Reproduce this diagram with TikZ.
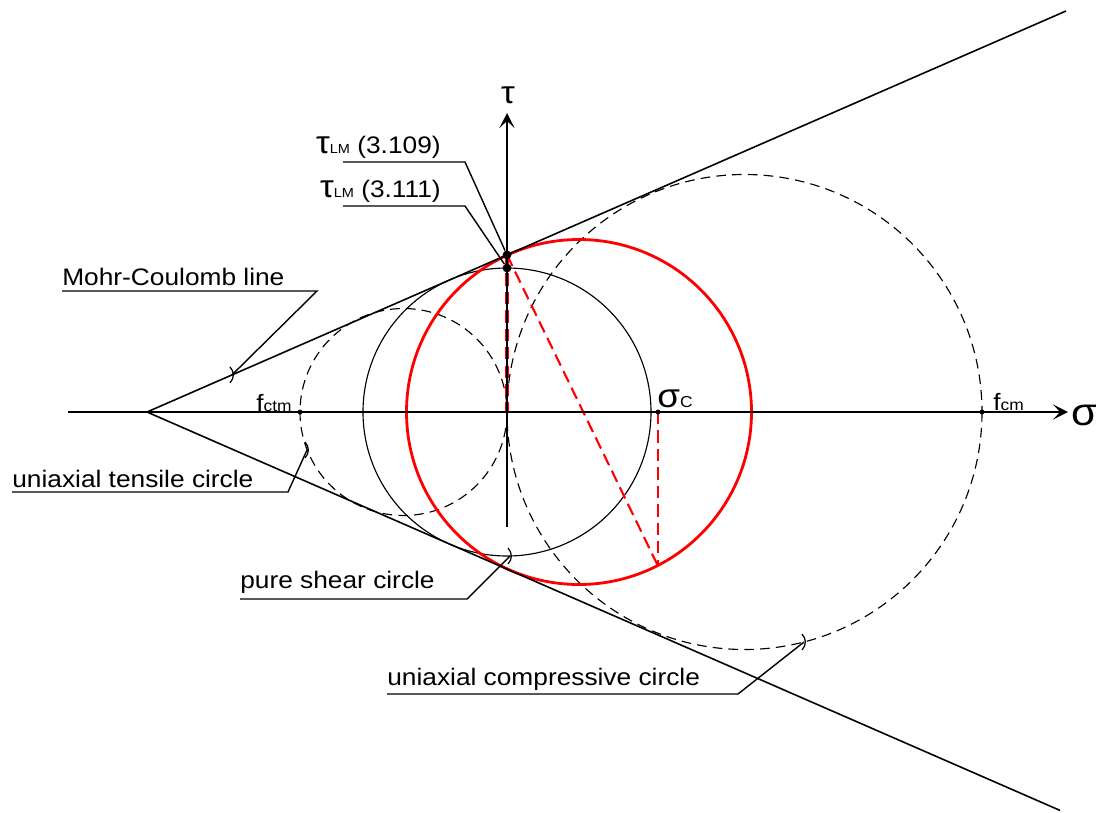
\documentclass[tikz,border=0pt]{standalone}
\usepackage{fontspec}
\setmainfont{Liberation Sans}[FakeStretch=1.1]
\usetikzlibrary{arrows.meta}
\begin{document}
\begin{tikzpicture}[x=0.02cm,y=-0.02cm,
  lbl/.style={inner sep=0pt, anchor=base west, font=\fontsize{13.6}{16}\selectfont},
  leader/.style={line width=0.8pt, line join=miter},
  axis/.style={line width=0.9pt, -{Stealth[length=8.5pt,width=8.5pt,inset=4pt]}},
  mcline/.style={line width=0.9pt},
  dcircle/.style={line width=0.65pt, dash pattern=on 5.5pt off 3.5pt},
  scircle/.style={line width=0.65pt},
  rcircle/.style={red, line width=1.6pt},
  rdash/.style={red, line width=1.2pt, dash pattern=on 7pt off 3.5pt},
  bigdot/.style={circle, fill, inner sep=0pt, minimum size=5pt},
  smalldot/.style={circle, fill, inner sep=0pt, minimum size=2.8pt},
  tickmark/.pic={\draw[line width=0.7pt] (-2,-8) .. controls (2.5,-3) and (2.5,3) .. (-2,8);}
]
\useasboundingbox (0,0) rectangle (1096,812);
% key coordinates
\coordinate (O) at (507,412);
\coordinate (A) at (147,412);
\coordinate (U) at (1066,11);
\coordinate (L) at (1060,810.4);
\coordinate (xs) at (68,412);
\coordinate (xe) at (1068,412);
\coordinate (ys) at (507,527);
\coordinate (ye) at (507,113);
\coordinate (P109) at (507,254.9);
\coordinate (P111) at (507,268);
\coordinate (Psc) at (658,412);
\coordinate (Pbot) at (658,566);
\coordinate (Pfctm) at (300,412);
\coordinate (Pfcm) at (982,412);
% circles
\draw[dcircle] (403.5,412) circle[radius=103.5];
\draw[scircle] (O) circle[radius=144];
\draw[dcircle] (744.5,412) circle[radius=237.5];
\draw[rcircle] (579,412) circle[radius=172.5];
% Mohr-Coulomb lines
\draw[mcline] (U) -- (A) -- (L);
% red construction lines
\draw[rdash, line width=1.8pt] (P109) -- (O);
\draw[rdash] (P109) -- (Pbot);
\draw[rdash] (Psc) -- (Pbot);
% axes
\draw[axis] (xs) -- (xe);
\draw[axis] (ys) -- (ye);
\node[inner sep=0pt, anchor=base, font=\fontsize{18}{18}\selectfont] (tauax) at (508,103) {τ};
\node[inner sep=0pt, anchor=base west, font=\fontsize{22}{22}\selectfont] (sigax) at (1071,425) {σ};
% dots
\node[bigdot] (d109) at (P109) {};
\node[bigdot] (d111) at (P111) {};
\node[smalldot] (dsc) at (Psc) {};
\node[smalldot] (dfctm) at (Pfctm) {};
\node[smalldot] (dfcm) at (Pfcm) {};
% point labels
\node[inner sep=0pt, anchor=base west] (lfctm) at (256,411) {{\fontsize{13.5}{13.5}\selectfont f}{\fontsize{9}{9}\selectfont ctm}};
\node[inner sep=0pt, anchor=base west] (lfcm) at (993,410) {{\fontsize{13.5}{13.5}\selectfont f}{\fontsize{9}{9}\selectfont cm}};
\node[inner sep=0pt, anchor=base west] (lsc) at (657,407) {{\fontsize{19}{19}\selectfont σ}{\fontsize{9}{9}\selectfont C}};
% leader targets
\coordinate (tMC) at (232,374.9);
\coordinate (tTen) at (307,450);
\coordinate (tShear) at (510,556);
\coordinate (tComp) at (804,642);
\pic at (tMC) {tickmark};
\pic at (tTen) {tickmark};
\pic at (tShear) {tickmark};
\pic at (tComp) {tickmark};
% leader underline corners
\coordinate (m1) at (62,291);   \coordinate (m2) at (317,291);
\coordinate (t1) at (12,492);   \coordinate (t2) at (288,492);
\coordinate (s1) at (240,599);  \coordinate (s2) at (467,599);
\coordinate (c1) at (387,694);  \coordinate (c2) at (738,694);
\coordinate (a1) at (343,162);  \coordinate (a2) at (465,162);
\coordinate (b1) at (343,206);  \coordinate (b2) at (465,206);
\draw[leader] (m1) -- (m2) -- (tMC);
\draw[leader] (t1) -- (t2) -- (tTen);
\draw[leader] (s1) -- (s2) -- (tShear);
\draw[leader] (c1) -- (c2) -- (tComp);
\draw[leader] (a1) -- (a2) -- (d109);
\draw[leader] (b1) -- (b2) -- (d111);
% labels
\node[lbl] (lMC) at (62,285) {Mohr-Coulomb line};
\node[lbl] (lTen) at (12,487) {uniaxial tensile circle};
\node[lbl] (lShear) at (240,588) {pure shear circle};
\node[lbl] (lComp) at (387,685) {uniaxial compressive circle};
\node[lbl, anchor=base east] (l109) at (441,153) {{\fontsize{18}{18}\selectfont τ}{\fontsize{7.5}{7.5}\selectfont LM} (3.109)};
\node[lbl, anchor=base east] (l111) at (441,197) {{\fontsize{18}{18}\selectfont τ}{\fontsize{7.5}{7.5}\selectfont LM} (3.111)};
\end{tikzpicture}
\end{document}
